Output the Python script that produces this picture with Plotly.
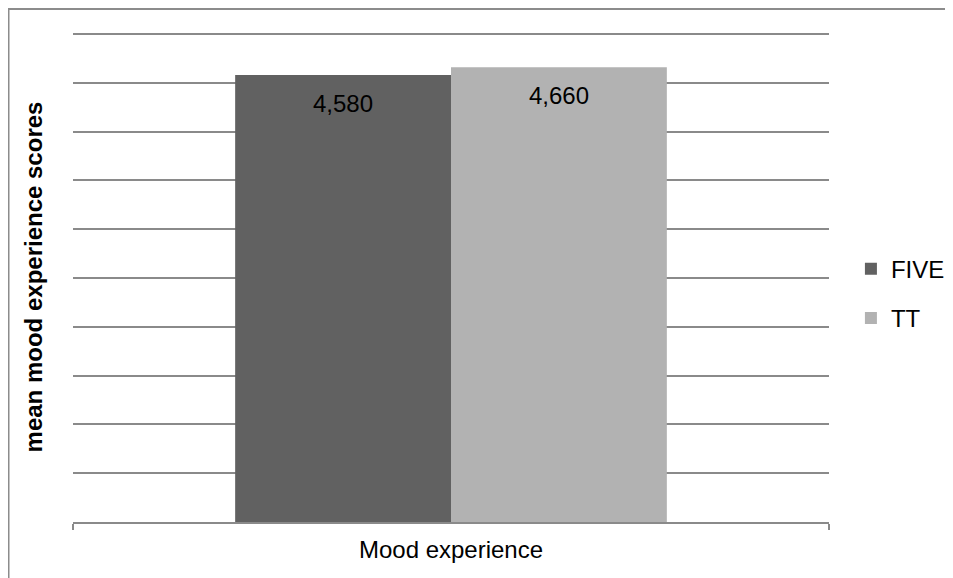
import plotly.graph_objects as go

categories = ["Mood experience"]
series_names = ["FIVE", "TT"]
five_values = [4.58]
tt_values = [4.66]
series_values = [five_values, tt_values]
series_colors = ["#616161", "#b2b2b2"]
y_title = "mean mood experience scores"


def fmt(v):
    return f"{v:.3f}".replace(".", ",")


FONT = "Liberation Sans, Arial, sans-serif"
FS = 24
fig = go.Figure()
for i, (name, vals, col) in enumerate(zip(series_names, series_values, series_colors)):
    fig.add_trace(go.Bar(
        x=categories, y=vals, name=name, legendgroup=f"g{i}",
        marker=dict(color=col, line=dict(width=0)),
        hoverinfo="skip",
    ))

# data labels inside bars, near the top
shifts = [-108, 108]
for vals, xs in zip(series_values, shifts):
    for c, v in zip(categories, vals):
        fig.add_annotation(x=c, y=v, text=fmt(v), showarrow=False,
                           xshift=xs, yshift=-13, yanchor="top",
                           font=dict(family=FONT, size=FS, color="#000000"))

# outer chart frame
fig.add_shape(type="rect", xref="paper", yref="paper",
              x0=-0.0853, x1=1.3, y0=-0.3, y1=1.047,
              line=dict(color="#8c8c8c", width=2), fillcolor="rgba(0,0,0,0)", layer="below")

fig.update_layout(
    width=953, height=578,
    margin=dict(l=65, r=132, t=24, b=64, autoexpand=False),
    paper_bgcolor="white", plot_bgcolor="white",
    barmode="group", bargap=0.429, bargroupgap=0,
    font=dict(family=FONT, size=FS, color="#000000"),
    showlegend=True,
    legend=dict(x=1.029, xanchor="left", y=0.466, yanchor="middle",
                font=dict(family=FONT, size=FS, color="#000000"),
                tracegroupgap=15, traceorder="grouped", bgcolor="rgba(0,0,0,0)"),
    xaxis=dict(
        showline=True, linecolor="#8a8a8a", linewidth=1.5,
        ticks="outside", tickson="boundaries", ticklen=6, tickcolor="#8a8a8a", tickwidth=1.5,
        showgrid=False, ticklabelstandoff=5,
        tickfont=dict(family=FONT, size=FS, color="#000000"),
    ),
    yaxis=dict(
        range=[0, 5.02], tickvals=[0.5 * k for k in range(11)], showticklabels=False, ticks="",
        showgrid=True, gridcolor="#8a8a8a", gridwidth=1.5,
        zeroline=False, showline=False,
        title=dict(text=f"<b>{y_title}</b>", standoff=22,
                   font=dict(family=FONT, size=FS, color="#000000")),
    ),
)

fig.write_html("out.html")
